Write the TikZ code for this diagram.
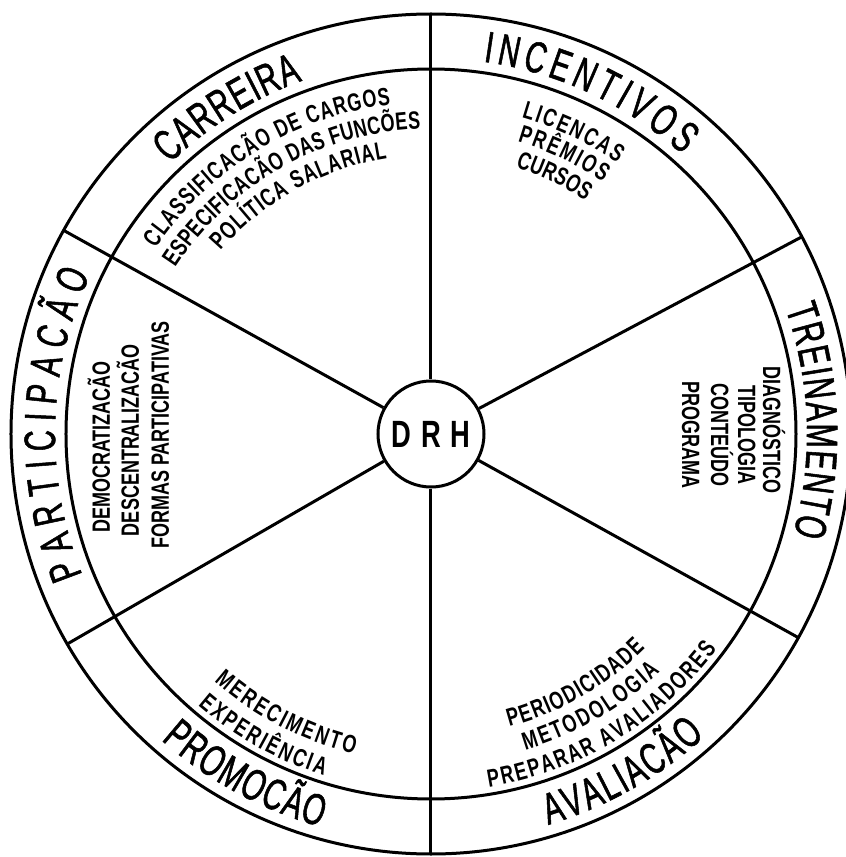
\documentclass[tikz,border=0pt]{standalone}
\usepackage{fontspec}
\setmainfont{Liberation Sans}
\newfontfamily\ringfam[FakeStretch=0.66, FakeBold=1.2]{Liberation Sans}
\newfontfamily\itemfam[FakeStretch=0.72]{Liberation Sans}
\usepackage{tikz}
\usetikzlibrary{decorations.text}
\tikzset{rim/.style={draw, line width=1.5pt},
  spoke/.style={line width=1.5pt},
  hub node/.style={circle, draw, line width=1.5pt, fill=white, minimum size=53pt, inner sep=0pt,
    font=\itemfam\bfseries\fontsize{19}{19}\selectfont},
  ring label/.style={decorate, decoration={text along path, text align=fit to path,
    text={|\ringfam\fontsize{22}{22}\selectfont|#1}}},
  item line/.style={decorate, decoration={text along path, text align=fit to path,
    text={|\itemfam\bfseries\fontsize{12.5}{13}\selectfont|#1}}},
  item node/.style={font=\itemfam\bfseries\fontsize{12.5}{13}\selectfont, inner sep=0pt,
    text height=9pt, text depth=0pt}
}

\begin{document}
\begin{tikzpicture}[x=0.5pt, y=0.5pt]
          \useasboundingbox (-431,-423) rectangle (415,434);
          % Rings
          \draw[rim] (0,0) circle[radius=420];
          \draw[rim] (0,0) circle[radius=365];
          % Hub
          \node[hub node] (drh) at (0,0) {D\kern5pt R\kern5pt H};
          % Spokes
          \foreach \a in {28,90,151,210,270,331} {
            \coordinate (rim\a) at (\a:420);
            \draw[spoke] (drh.\a) -- (rim\a);
          }
          % Ring labels
          \path[ring label={CARREIRA}] (134:376) arc[start angle=134, end angle=110, radius=376];
          \path[ring label={INCENTIVOS}] (82:376) arc[start angle=82, end angle=48, radius=376];
          \path[ring label={TREINAMENTO}] (19.5:376) arc[start angle=19.5, end angle=-15.5, radius=376];
          \path[ring label={AVALIACÃO}] (-73.3:408) arc[start angle=-73.3, end angle=-47.8, radius=408];
          \path[ring label={PROMOCÃO}] (228.6:408) arc[start angle=228.6, end angle=254.3, radius=408];
          \path[ring label={PARTICIPACÃO}] (202:376) arc[start angle=202, end angle=155, radius=376];
          % Carreira
          \path[item line={CLASSIFICACÃO DE CARGOS}] (146:332) arc[start angle=146, end angle=97, radius=332];
          \path[item line={ESPECIFICACÃO DAS FUNCÕES}] (147:305) arc[start angle=147, end angle=92, radius=305];
          \path[item line={POLÍTICA SALARIAL}] (139:279) arc[start angle=139, end angle=99, radius=279];
          % Incentivos
          \path[item line={LICENCAS}] (74:329) arc[start angle=74, end angle=55.5, radius=329];
          \path[item line={PRÊMIOS}] (73.5:305) arc[start angle=73.5, end angle=55.7, radius=305];
          \path[item line={CURSOS}] (72.4:280) arc[start angle=72.4, end angle=56.5, radius=280];
          % Treinamento
          \node[item node, rotate=-90] (diag) at (341,4) {DIAGNÓSTICO};
          \node[item node, rotate=-90] (tipo) at (316,-1) {TIPOLOGIA};
          \node[item node, rotate=-90] (cont) at (289,-1) {CONTEÚDO};
          \node[item node, rotate=-90] (prog) at (260,-1) {PROGRAMA};
          % Avaliacao
          \path[item line={PERIODICIDADE}] (-75:303) arc[start angle=-75, end angle=-45, radius=303];
          \path[item line={METODOLOGIA}] (-73.4:330) arc[start angle=-73.4, end angle=-46, radius=330];
          \path[item line={PREPARAR AVALIADORES}] (-80.7:358) arc[start angle=-80.7, end angle=-37, radius=358];
          % Promocao
          \path[item line={MERECIMENTO}] (228.8:329) arc[start angle=228.8, end angle=256.5, radius=329];
          \path[item line={EXPERIÊNCIA}] (229.4:358) arc[start angle=229.4, end angle=252.6, radius=358];
          % Participacao
          \node[item node, rotate=90] (demo) at (-330,-13) {DEMOCRATIZACÃO};
          \node[item node, rotate=90] (desc) at (-301,-6) {DESCENTRALIZACÃO};
          \node[item node, rotate=90] (formas) at (-271,-1) {FORMAS PARTICIPATIVAS};
        \end{tikzpicture}
\end{document}
